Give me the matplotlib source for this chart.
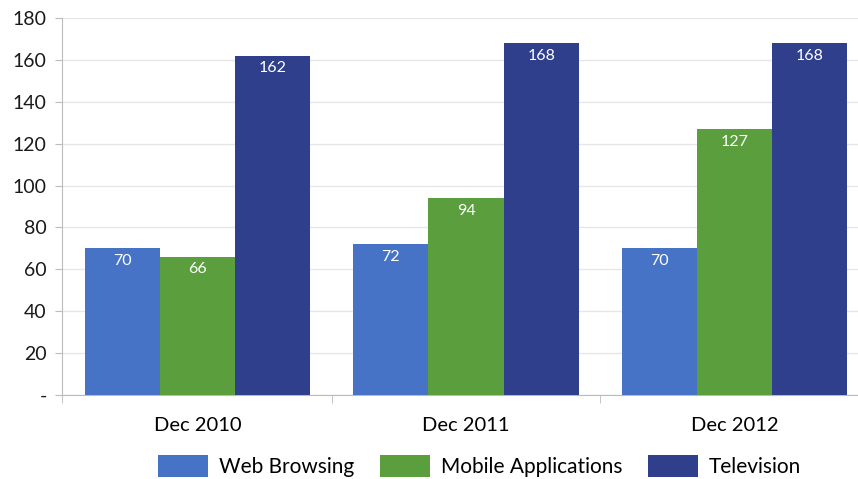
import matplotlib
matplotlib.use("Agg")
import matplotlib.pyplot as plt
import numpy as np

categories = ["Dec 2010", "Dec 2011", "Dec 2012"]
web_browsing = [70, 72, 70]
mobile_apps = [66, 94, 127]
television = [162, 168, 168]
series_names = ["Web Browsing", "Mobile Applications", "Television"]
colors = ["#4673C6", "#5A9E3D", "#2F3F8C"]
yticks = [0, 20, 40, 60, 80, 100, 120, 140, 160, 180]
ytick_labels = ["-", "20", "40", "60", "80", "100", "120", "140", "160", "180"]

plt.rcParams['font.family'] = ['Lato', 'DejaVu Sans']

fig = plt.figure(figsize=(8.58, 4.79), dpi=100)
ax = fig.add_axes([62/858, 1-395/479, 1-62/858, (395-18)/479])

x = np.arange(len(categories))
w = 0.28
offsets = [-w, 0, w]
for vals, name, c, off in zip([web_browsing, mobile_apps, television], series_names, colors, offsets):
    bars = ax.bar(x + off, vals, width=w, color=c, label=name, zorder=3)
    for b, v in zip(bars, vals):
        ax.annotate(str(v), (b.get_x() + b.get_width()/2, v), xytext=(0, -4),
                    textcoords="offset points", ha="center", va="top",
                    color="white", fontsize=11.5, zorder=4)

ax.set_ylim(0, 180)
ax.set_xlim(-0.505, 2.46)
ax.set_yticks(yticks)
ax.set_yticklabels(ytick_labels, fontsize=14)
ax.yaxis.grid(True, color="#E6E6E6", linewidth=1, zorder=0)
ax.set_axisbelow(True)

ax.set_xticks(x)
ax.set_xticklabels(categories, fontsize=14.5)
ax.tick_params(axis="x", length=0, pad=16)
ax.tick_params(axis="y", length=5, color="#BBBBBB", pad=6, labelcolor="#1A1A1A")
# category boundary ticks
ax.set_xticks([-0.505, 0.5, 1.5], minor=True)
ax.tick_params(axis="x", which="minor", length=6, color="#BBBBBB")

for s in ["top", "right"]:
    ax.spines[s].set_visible(False)
ax.spines["left"].set_color("#BBBBBB")
ax.spines["bottom"].set_color("#BBBBBB")

fig.legend(loc="lower center", bbox_to_anchor=(0.559, -0.035), ncol=3, frameon=False,
           fontsize=15, handlelength=2.4, handleheight=1.2, columnspacing=1.2,
           handletextpad=0.55)

fig.savefig("out.png", dpi=100)
